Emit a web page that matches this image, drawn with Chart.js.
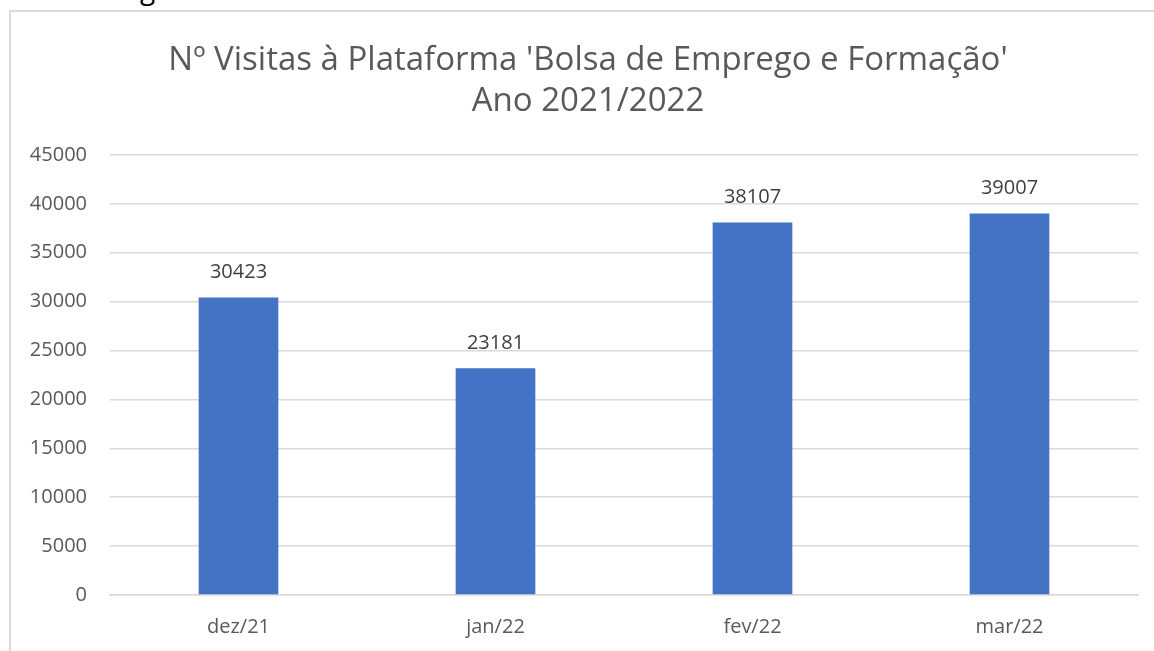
<!DOCTYPE html>
<html>
<head>
<meta charset="utf-8">
<script src="https://cdn.jsdelivr.net/npm/chart.js@4.4.0/dist/chart.umd.min.js"></script>
<style>
  html, body { margin: 0; padding: 0; background: #fff; overflow: hidden; width: 1154px; height: 651px; }
  #frame { position: absolute; left: 9px; top: 10px; width: 1160px; height: 660px; border: 2px solid #d9d9d9; box-sizing: border-box; }
  #frag { position: absolute; left: 140px; top: -26px; font-family: 'Open Sans', sans-serif; font-size: 28px; line-height: 1; color: #000; }
  #wrap { position: absolute; left: 0; top: 0; width: 1154px; height: 651px; }
</style>
</head>
<body>
<div id="frag">g</div>
<div id="frame"></div>
<div id="wrap"><canvas id="c"></canvas></div>
<script>
const categories = ['dez/21', 'jan/22', 'fev/22', 'mar/22'];
const visits = [30423, 23181, 38107, 39007];
const titleLines = ["Nº Visitas à Plataforma 'Bolsa de Emprego e Formação'", 'Ano 2021/2022'];
const yMax = 45000;
const yStep = 5000;

const FONT = '"Open Sans", sans-serif';

const valueLabels = {
  id: 'valueLabels',
  afterDatasetsDraw(chart) {
    const ctx = chart.ctx;
    const meta = chart.getDatasetMeta(0);
    ctx.save();
    ctx.font = '20px ' + FONT;
    ctx.fillStyle = '#404040';
    ctx.textAlign = 'center';
    ctx.textBaseline = 'middle';
    meta.data.forEach((bar, i) => {
      ctx.fillText(String(chart.data.datasets[0].data[i]), bar.x, bar.y - 25);
    });
    ctx.restore();
  }
};

const frameTitle = {
  id: 'frameTitle',
  afterDraw(chart) {
    const ctx = chart.ctx;
    ctx.save();
    ctx.font = '33px ' + FONT;
    ctx.fillStyle = '#595959';
    ctx.textAlign = 'center';
    ctx.textBaseline = 'middle';
    titleLines.forEach((t, i) => ctx.fillText(t, 588, 61 + i * 41));
    ctx.restore();
  }
};

new Chart(document.getElementById('c'), {
  type: 'bar',
  data: {
    labels: categories,
    datasets: [{
      data: visits,
      backgroundColor: '#4472C4',
      categoryPercentage: 1.0,
      barPercentage: 0.31
    }]
  },
  options: {
    responsive: true,
    maintainAspectRatio: false,
    animation: false,
    layout: { padding: { left: 0, right: 16, top: 155, bottom: 0 } },
    plugins: {
      legend: { display: false },
      tooltip: { enabled: false },
      title: { display: false }
    },
    scales: {
      x: {
        grid: { display: false, drawTicks: false },
        border: { display: true, color: '#d9d9d9', width: 1.5 },
        ticks: { color: '#595959', font: { family: FONT, size: 20 }, padding: 20 },
        afterFit(scale) { scale.height = 56; }
      },
      y: {
        min: 0, max: yMax,
        grid: { color: '#d9d9d9', lineWidth: 1.5, drawTicks: false },
        border: { display: false },
        ticks: { stepSize: yStep, color: '#595959', font: { family: FONT, size: 20 }, padding: 23,
                 callback: (v) => String(v) },
        afterFit(scale) { scale.width = 110; }
      }
    }
  },
  plugins: [valueLabels, frameTitle]
});
</script>
</body>
</html>
